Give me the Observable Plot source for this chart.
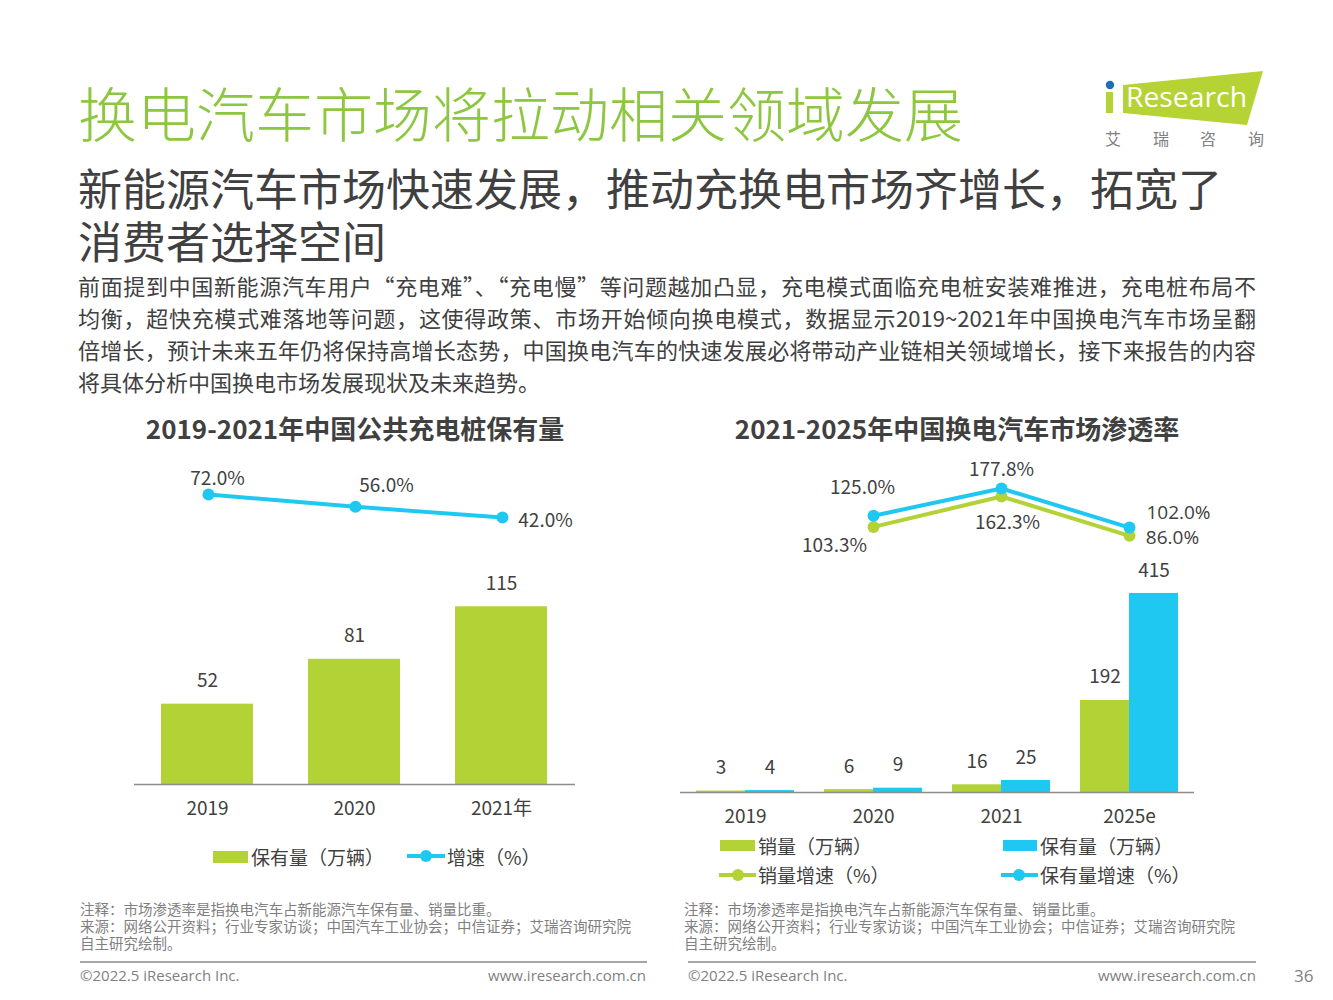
<!DOCTYPE html>
<html lang="zh-CN"><head><meta charset="utf-8">
<script src="https://cdn.jsdelivr.net/npm/d3@7"></script>
<script src="https://cdn.jsdelivr.net/npm/@observablehq/plot@0.6"></script>
<style>
body{margin:0;background:#fff;font-family:"Noto Sans CJK SC","Noto Sans",sans-serif;color:#404040;}
#page{position:relative;width:1333px;height:1000px;overflow:hidden;background:#fff;}
.abs{position:absolute;white-space:nowrap;}
.sub{font-family:"Liberation Sans","Noto Sans CJK SC",sans-serif;font-size:44px;line-height:53px;height:53px;color:#404040;}
.jl{width:1178px;height:32px;text-align:justify;text-align-last:justify;}
.leg{position:absolute;font-size:19px;line-height:24px;color:#404040;white-space:nowrap;}
.sw{position:absolute;}
.note{position:absolute;font-family:"Liberation Sans","Noto Sans CJK SC",sans-serif;font-size:14.5px;line-height:17px;height:17px;color:#7f7f7f;white-space:nowrap;}
.foot{position:absolute;font-size:15px;line-height:18px;color:#7f7f7f;white-space:nowrap;font-family:"Open Sans","Noto Sans",sans-serif;}
.sep{position:absolute;height:2px;background:#a6a6a6;}
.plotbox{position:absolute;}
.plotbox svg{position:absolute;left:0;top:0;}
</style></head><body>
<div id="page">
  <div class="abs" style="left:78px;top:82px;font-size:59px;line-height:60px;color:#8dc63f;font-weight:300;">换电汽车市场将拉动相关领域发展</div>
  <div class="abs sub" style="left:78px;top:164px;">新能源汽车市场快速发展，推动充换电市场齐增长，拓宽了</div>
  <div class="abs sub" style="left:78px;top:217px;">消费者选择空间</div>
  <div class="abs" style="left:78px;top:269px;font-size:22px;line-height:32px;color:#404040;">
    <div class="jl">前面提到中国新能源汽车用户“充电难”、“充电慢”等问题越加凸显，充电模式面临充电桩安装难推进，充电桩布局不</div>
    <div class="jl">均衡，超快充模式难落地等问题，这使得政策、市场开始倾向换电模式，数据显示2019~2021年中国换电汽车市场呈翻</div>
    <div class="jl">倍增长，预计未来五年仍将保持高增长态势，中国换电汽车的快速发展必将带动产业链相关领域增长，接下来报告的内容</div>
    <div style="height:32px;">将具体分析中国换电市场发展现状及未来趋势。</div>
  </div>

  <svg class="abs" style="left:1100px;top:65px;" width="175" height="90">
    <polygon points="23,20 163,6 147,60 23,48" fill="#b5d334"/>
    <rect x="6" y="27" width="7" height="21" fill="#b5d334"/>
    <circle cx="10" cy="20" r="4.2" fill="#1f6fb5"/>
    <text x="26" y="42" fill="#fff" font-size="27" font-family="Open Sans, Noto Sans, sans-serif" textLength="121" lengthAdjust="spacingAndGlyphs">Research</text>
    <g fill="#808080" font-size="16" font-family="Noto Sans CJK SC" text-anchor="middle">
      <text x="13" y="80">艾</text><text x="61" y="80">瑞</text><text x="108" y="80">咨</text><text x="156" y="80">询</text>
    </g>
  </svg>

  <div class="abs" id="t1" style="left:100px;width:510px;text-align:center;top:412px;font-size:26px;line-height:32px;font-weight:bold;color:#404040;">2019-2021年中国公共充电桩保有量</div>
  <div class="abs" id="t2" style="left:700px;width:514px;text-align:center;top:412px;font-size:26px;line-height:32px;font-weight:bold;color:#404040;">2021-2025年中国换电汽车市场渗透率</div>

  <div class="plotbox" id="chart1" style="left:100px;top:440px;width:510px;height:400px;"></div>
  <div class="plotbox" id="chart2" style="left:650px;top:440px;width:580px;height:400px;"></div>

  <!-- legend left -->
  <div class="sw" style="left:213px;top:851px;width:35px;height:12px;background:#b2d235;"></div>
  <div class="leg" style="left:251px;top:845px;">保有量（万辆）</div>
  <div class="sw" style="left:407px;top:854px;width:38px;height:4px;background:#1fc8f0;"></div>
  <div class="sw" style="left:420px;top:850px;width:12px;height:12px;border-radius:50%;background:#1fc8f0;"></div>
  <div class="leg" style="left:447px;top:845px;">增速（%）</div>

  <!-- legend right -->
  <div class="sw" style="left:720px;top:840px;width:35px;height:11px;background:#b2d235;"></div>
  <div class="leg" style="left:758px;top:834px;">销量（万辆）</div>
  <div class="sw" style="left:1003px;top:840px;width:34px;height:11px;background:#1fc8f0;"></div>
  <div class="leg" style="left:1040px;top:834px;">保有量（万辆）</div>
  <div class="sw" style="left:719px;top:873px;width:37px;height:4px;background:#b2d235;"></div>
  <div class="sw" style="left:732px;top:869px;width:12px;height:12px;border-radius:50%;background:#b2d235;"></div>
  <div class="leg" style="left:758px;top:863px;">销量增速（%）</div>
  <div class="sw" style="left:1001px;top:873px;width:37px;height:4px;background:#1fc8f0;"></div>
  <div class="sw" style="left:1013px;top:869px;width:12px;height:12px;border-radius:50%;background:#1fc8f0;"></div>
  <div class="leg" style="left:1040px;top:863px;">保有量增速（%）</div>

  <!-- notes -->
  <div class="note" style="left:80px;top:902px;">注释：市场渗透率是指换电汽车占新能源汽车保有量、销量比重。</div>
  <div class="note" style="left:80px;top:919px;">来源：网络公开资料；行业专家访谈；中国汽车工业协会；中信证券；艾瑞咨询研究院</div>
  <div class="note" style="left:80px;top:936px;">自主研究绘制。</div>
  <div class="note" style="left:684px;top:902px;">注释：市场渗透率是指换电汽车占新能源汽车保有量、销量比重。</div>
  <div class="note" style="left:684px;top:919px;">来源：网络公开资料；行业专家访谈；中国汽车工业协会；中信证券；艾瑞咨询研究院</div>
  <div class="note" style="left:684px;top:936px;">自主研究绘制。</div>
  <div class="sep" style="left:80px;top:961px;width:567px;"></div>
  <div class="sep" style="left:688px;top:961px;width:568px;"></div>
  <div class="foot" style="left:80px;top:966px;">©2022.5 iResearch Inc.</div>
  <div class="foot" style="left:446px;width:200px;text-align:right;top:966px;">www.iresearch.com.cn</div>
  <div class="foot" style="left:688px;top:966px;">©2022.5 iResearch Inc.</div>
  <div class="foot" style="left:1056px;width:200px;text-align:right;top:966px;">www.iresearch.com.cn</div>
  <div class="foot" style="left:1294px;top:967px;font-size:17px;">36</div>
</div>
<script>
// ---- data: left chart ----
const years1 = ["2019", "2020", "2021年"];
const stock1 = [52, 81, 115];          // 保有量（万辆）
const growth1 = [72.0, 56.0, 42.0];    // 增速（%）

// ---- data: right chart ----
const years2 = ["2019", "2020", "2021", "2025e"];
const sales2 = [3, 6, 16, 192];        // 销量（万辆）
const stock2 = [4, 9, 25, 415];        // 保有量（万辆）
const growthYears2 = ["2020", "2021", "2025e"];
const salesGrowth2 = [103.3, 162.3, 86.0];  // 销量增速（%）
const stockGrowth2 = [125.0, 177.8, 102.0]; // 保有量增速（%）

const GREEN = "#b2d235", BLUE = "#1fc8f0", TEXT = "#404040";
const FONT = '"Noto Sans CJK SC", "Noto Sans", sans-serif';
const NUMFONT = '"Open Sans", "Noto Sans", sans-serif';
const pct = v => v.toFixed(1) + "%";
const baseStyle = {fontFamily: FONT, fontSize: "19px", color: TEXT, background: "transparent", overflow: "visible"};

// ---------- left chart ----------
const d1 = years1.map((y, i) => ({year: y, stock: stock1[i], growth: growth1[i]}));
const g1 = {width: 510, height: 400, marginLeft: 34, marginRight: 35, marginTop: 4, marginBottom: 56, style: baseStyle};
const x1 = {domain: years1, paddingInner: 0.374, paddingOuter: 0.187};

const bars1 = Plot.plot({
  ...g1,
  x: {...x1, label: null, tickSize: 0, tickPadding: 17},
  y: {domain: [0, 220], axis: null},
  marks: [
    Plot.barY(d1, {x: "year", y: "stock", fill: GREEN}),
    Plot.ruleY([0], {stroke: "#8c8c8c", strokeWidth: 1.5}),
    Plot.text(d1, {x: "year", y: "stock", text: d => String(d.stock), dy: -23, fill: TEXT, fontSize: 19})
  ]
});
const line1 = Plot.plot({
  ...g1,
  x: {...x1, axis: null},
  y: {domain: [-305.8, 137.2], axis: null},
  marks: [
    Plot.line(d1, {x: "year", y: "growth", stroke: BLUE, strokeWidth: 4}),
    Plot.dot(d1, {x: "year", y: "growth", fill: BLUE, r: 6}),
    Plot.text(d1, {filter: d => d.year === years1[0], x: "year", y: "growth", text: d => pct(d.growth), dx: 9, dy: -16, fill: TEXT, fontSize: 19}),
    Plot.text(d1, {filter: d => d.year === years1[1], x: "year", y: "growth", text: d => pct(d.growth), dx: 31, dy: -21, fill: TEXT, fontSize: 19}),
    Plot.text(d1, {filter: d => d.year === years1[2], x: "year", y: "growth", text: d => pct(d.growth), dx: 43, dy: 3, fill: TEXT, fontSize: 19})
  ]
});
document.getElementById("chart1").append(bars1, line1);

// ---------- right chart ----------
const d2 = years2.map((y, i) => ({year: y, sales: sales2[i], stock: stock2[i]}));
const l2 = growthYears2.map((y, i) => ({year: y, sg: salesGrowth2[i], kg: stockGrowth2[i]}));
const g2 = {width: 580, height: 400, marginLeft: 30, marginRight: 36, marginTop: 10, marginBottom: 48, style: baseStyle};
const x2 = {domain: years2, paddingInner: 0.237, paddingOuter: 0.1185};

const bars2 = Plot.plot({
  ...g2,
  x: {...x2, label: null, tickSize: 0, tickPadding: 17},
  y: {domain: [0, 713], axis: null},
  marks: [
    Plot.barY(d2, {x: "year", y: "sales", fill: GREEN, insetRight: 49}),
    Plot.barY(d2, {x: "year", y: "stock", fill: BLUE, insetLeft: 49}),
    Plot.ruleY([0], {stroke: "#8c8c8c", strokeWidth: 1.5}),
    Plot.text(d2, {x: "year", y: "sales", text: d => String(d.sales), dx: -24.5, dy: -23, fill: TEXT, fontSize: 19}),
    Plot.text(d2, {x: "year", y: "stock", text: d => String(d.stock), dx: 24.5, dy: -23, fill: TEXT, fontSize: 19})
  ]
});
const line2 = Plot.plot({
  ...g2,
  x: {...x2, axis: null},
  y: {domain: [-412.4, 251.6], axis: null},
  marks: [
    Plot.line(l2, {x: "year", y: "sg", stroke: GREEN, strokeWidth: 4}),
    Plot.dot(l2, {x: "year", y: "sg", fill: GREEN, r: 6}),
    Plot.line(l2, {x: "year", y: "kg", stroke: BLUE, strokeWidth: 4}),
    Plot.dot(l2, {x: "year", y: "kg", fill: BLUE, r: 6}),
    // 保有量增速 labels
    Plot.text(l2, {filter: d => d.year === growthYears2[0], x: "year", y: "kg", text: d => pct(d.kg), dx: -11, dy: -28, fill: TEXT, fontSize: 19}),
    Plot.text(l2, {filter: d => d.year === growthYears2[1], x: "year", y: "kg", text: d => pct(d.kg), dx: 0, dy: -19, fill: TEXT, fontSize: 19}),
    Plot.text(l2, {filter: d => d.year === growthYears2[2], x: "year", y: "kg", text: d => pct(d.kg), dx: 49, dy: -15, fill: TEXT, fontSize: 19, fontFamily: NUMFONT}),
    // 销量增速 labels
    Plot.text(l2, {filter: d => d.year === growthYears2[0], x: "year", y: "sg", text: d => pct(d.sg), dx: -39, dy: 19, fill: TEXT, fontSize: 19}),
    Plot.text(l2, {filter: d => d.year === growthYears2[1], x: "year", y: "sg", text: d => pct(d.sg), dx: 6, dy: 26, fill: TEXT, fontSize: 19}),
    Plot.text(l2, {filter: d => d.year === growthYears2[2], x: "year", y: "sg", text: d => pct(d.sg), dx: 43, dy: 2, fill: TEXT, fontSize: 19, fontFamily: NUMFONT})
  ]
});
document.getElementById("chart2").append(bars2, line2);
</script>
</body></html>
